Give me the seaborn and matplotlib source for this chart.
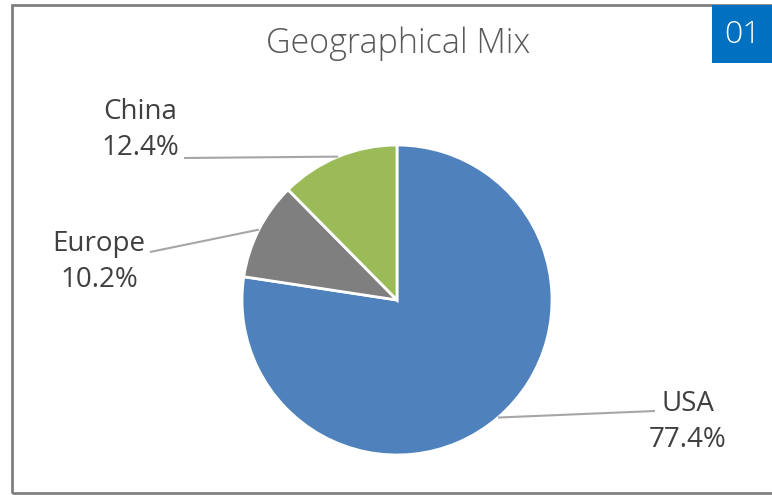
import numpy as np
import matplotlib
matplotlib.use("Agg")
import matplotlib.pyplot as plt
from matplotlib.patches import Rectangle
import seaborn as sns


# data
regions = ["USA", "Europe", "China"]
shares = [77.4, 10.2, 12.4]
colors = ["#4F81BD", "#7F7F7F", "#9BBB59"]
title = "Geographical Mix"
badge = "01"

# label text anchors (pixel coords, y measured from top) and leader line end
label_pos = {"USA": (688, 422), "Europe": (99, 262), "China": (140, 130)}
leader_end = {"USA": (655, 411), "Europe": (150, 252), "China": (184, 158)}

W, H = 772, 495
CENTER = (397, H - 300)
RADIUS = 155

sns.set_theme(style="white")
plt.rcParams["font.family"] = ["Open Sans", "DejaVu Sans"]


def main():
    fig = plt.figure(figsize=(W / 100, H / 100), dpi=100)
    ax = fig.add_axes([0, 0, 1, 1])

    wedges, _ = ax.pie(
        shares,
        colors=colors,
        startangle=90,
        counterclock=False,
        center=CENTER,
        radius=RADIUS,
        wedgeprops=dict(edgecolor="white", linewidth=2),
    )
    ax.set_xlim(0, W)
    ax.set_ylim(0, H)
    ax.set_aspect("equal")
    ax.axis("off")

    for w, name, val in zip(wedges, regions, shares):
        mid = np.deg2rad((w.theta1 + w.theta2) / 2)
        x0 = CENTER[0] + RADIUS * np.cos(mid)
        y0 = CENTER[1] + RADIUS * np.sin(mid)
        ex, ey = leader_end[name]
        ax.plot([x0, ex], [y0, H - ey], color="#A6A6A6", lw=1.5, solid_capstyle="butt")
        tx, ty = label_pos[name]
        ax.text(tx, H - ty, f"{name}\n{val:.1f}%", ha="center", va="center",
                fontsize=20, color="#404040", linespacing=1.35)

    ax.text(398, H - 53, title, ha="center", va="baseline", fontsize=24.5,
            color="#595959", fontweight="light")

    # frame around the chart area
    ax.add_patch(Rectangle((12, 2), 800, 488, fill=False, edgecolor="#808080",
                           lw=2, clip_on=False))
    # badge
    ax.add_patch(Rectangle((712, H - 63), 62, 58, facecolor="#0070C0",
                           edgecolor="none", clip_on=False))
    ax.text(743, H - 35, badge, ha="center", va="center", fontsize=23,
            color="white", fontweight="light")

    fig.savefig("out.png", dpi=100)
    plt.close(fig)


if __name__ == "__main__":
    main()
